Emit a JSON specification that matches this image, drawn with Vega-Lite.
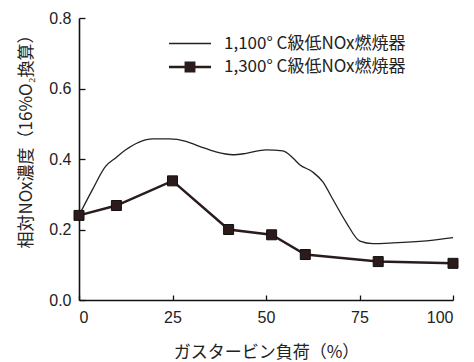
{
  "$schema": "https://vega.github.io/schema/vega-lite/v6.json",
  "width": 374,
  "height": 282,
  "autosize": {"type": "none"},
  "padding": {"left": 79, "top": 18, "right": 21, "bottom": 62},
  "background": "white",
  "config": {
    "view": {"stroke": null},
    "font": "Liberation Sans",
    "axis": {
      "domainColor": "#111",
      "domainWidth": 1.6,
      "tickColor": "#111",
      "tickWidth": 1.3,
      "grid": false,
      "labelFont": "Liberation Sans",
      "labelFontSize": 16,
      "labelColor": "#222",
      "titleFont": "Noto Sans CJK JP",
      "titleFontWeight": "normal",
      "titleColor": "#222"
    }
  },
  "datasets": {
    "a": [
      {"s": "1,100° C級低NOx燃焼器", "x": 0, "y": 0.24},
      {"s": "1,100° C級低NOx燃焼器", "x": 3.6, "y": 0.313},
      {"s": "1,100° C級低NOx燃焼器", "x": 7.1, "y": 0.379},
      {"s": "1,100° C級低NOx燃焼器", "x": 9.8, "y": 0.403},
      {"s": "1,100° C級低NOx燃焼器", "x": 12.5, "y": 0.426},
      {"s": "1,100° C級低NOx燃焼器", "x": 16.1, "y": 0.448},
      {"s": "1,100° C級低NOx燃焼器", "x": 19.7, "y": 0.457},
      {"s": "1,100° C級低NOx燃焼器", "x": 24.1, "y": 0.457},
      {"s": "1,100° C級低NOx燃焼器", "x": 28.6, "y": 0.45},
      {"s": "1,100° C級低NOx燃焼器", "x": 32.2, "y": 0.436},
      {"s": "1,100° C級低NOx燃焼器", "x": 36.6, "y": 0.42},
      {"s": "1,100° C級低NOx燃焼器", "x": 41.1, "y": 0.412},
      {"s": "1,100° C級低NOx燃焼器", "x": 44.7, "y": 0.416},
      {"s": "1,100° C級低NOx燃焼器", "x": 50, "y": 0.426},
      {"s": "1,100° C級低NOx燃焼器", "x": 54.5, "y": 0.423},
      {"s": "1,100° C級低NOx燃焼器", "x": 57.2, "y": 0.403},
      {"s": "1,100° C級低NOx燃焼器", "x": 59, "y": 0.384},
      {"s": "1,100° C級低NOx燃焼器", "x": 62.5, "y": 0.363},
      {"s": "1,100° C級低NOx燃焼器", "x": 65.2, "y": 0.335},
      {"s": "1,100° C級低NOx燃焼器", "x": 67.9, "y": 0.285},
      {"s": "1,100° C級低NOx燃焼器", "x": 71.5, "y": 0.219},
      {"s": "1,100° C級低NOx燃焼器", "x": 75.1, "y": 0.167},
      {"s": "1,100° C級低NOx燃焼器", "x": 78.6, "y": 0.16},
      {"s": "1,100° C級低NOx燃焼器", "x": 84, "y": 0.162},
      {"s": "1,100° C級低NOx燃焼器", "x": 92.9, "y": 0.168},
      {"s": "1,100° C級低NOx燃焼器", "x": 100, "y": 0.177}
    ],
    "b": [
      {"s": "1,300° C級低NOx燃焼器", "x": 0, "y": 0.24},
      {"s": "1,300° C級低NOx燃焼器", "x": 10, "y": 0.268},
      {"s": "1,300° C級低NOx燃焼器", "x": 25, "y": 0.338},
      {"s": "1,300° C級低NOx燃焼器", "x": 40, "y": 0.2},
      {"s": "1,300° C級低NOx燃焼器", "x": 51.5, "y": 0.185},
      {"s": "1,300° C級低NOx燃焼器", "x": 60.5, "y": 0.129},
      {"s": "1,300° C級低NOx燃焼器", "x": 80, "y": 0.109},
      {"s": "1,300° C級低NOx燃焼器", "x": 100, "y": 0.104}
    ]
  },
  "encoding": {
    "x": {
      "field": "x", "type": "quantitative",
      "scale": {"domain": [0, 100], "nice": false, "zero": false},
      "axis": {
        "values": [0, 25, 50, 75, 100],
        "tickSize": -5,
        "labelPadding": 14,
        "title": "ガスタービン負荷（%）",
        "titleFontSize": 17,
        "titlePadding": 19
      }
    },
    "y": {
      "field": "y", "type": "quantitative",
      "scale": {"domain": [0, 0.8], "nice": false},
      "axis": {
        "values": [0, 0.2, 0.4, 0.6, 0.8],
        "format": ".1f",
        "tickSize": -6,
        "labelPadding": 14,
        "title": "相対NOx濃度（16%O₂換算）",
        "titleFontSize": 17,
        "titleX": -44,
        "titleY": 119,
        "titleAngle": -90
      }
    }
  },
  "layer": [
    {
      "data": {"name": "a"},
      "mark": {"type": "line", "interpolate": "monotone"},
      "encoding": {
        "color": {
          "field": "s", "type": "nominal",
          "scale": {"range": ["#222222", "#2a1c1c"]},
          "legend": {
            "title": null,
            "orient": "none",
            "legendX": 99,
            "legendY": 14,
            "padding": 0,
            "symbolSize": 441,
            "symbolStrokeWidth": 2,
            "rowPadding": 3,
            "labelOffset": 22,
            "labelFont": "Noto Sans CJK JP",
            "labelFontSize": 17,
            "labelColor": "#222",
            "labelLimit": 300,
            "encode": {
              "symbols": {
                "update": {
                  "shape": {"signal": "indexof(datum.label, '1,300') >= 0 ? 'M-2,0H2M-0.4,-0.4H0.4V0.4H-0.4Z' : 'M-2,0H2'"},
                  "fill": {"signal": "indexof(datum.label, '1,300') >= 0 ? '#2d1a1a' : 'transparent'"},
                  "strokeWidth": {"signal": "indexof(datum.label, '1,300') >= 0 ? 2.5 : 1.3"}
                }
              }
            }
          }
        },
        "strokeWidth": {
          "field": "s", "type": "nominal",
          "scale": {"range": [1.3, 2.5]},
          "legend": null
        }
      }
    },
    {
      "data": {"name": "b"},
      "mark": {"type": "line", "interpolate": "linear"},
      "encoding": {
        "color": {"field": "s", "type": "nominal"},
        "strokeWidth": {"field": "s", "type": "nominal", "legend": null}
      }
    },
    {
      "data": {"name": "b"},
      "mark": {"type": "point", "shape": "square", "filled": true, "size": 100, "color": "#2d1a1a", "stroke": "#111", "strokeWidth": 1, "opacity": 1},
      "encoding": {}
    }
  ]
}
